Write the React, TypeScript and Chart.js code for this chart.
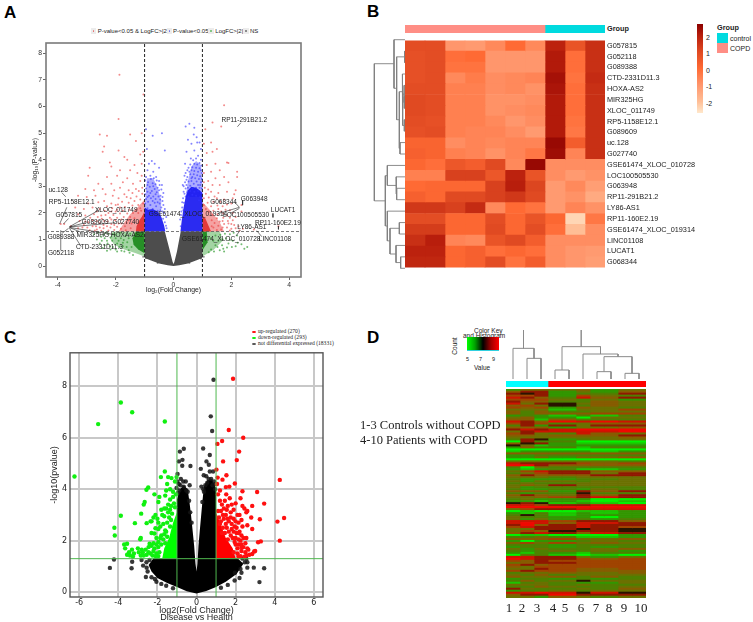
import React, { useEffect, useRef } from "react";
import { Chart, registerables } from "chart.js";

Chart.register(...registerables);

type Pair = [number, number];
const SANS = "'Liberation Sans', Arial, sans-serif";
const SERIF = "'Liberation Serif', serif";

/* ---------- Panel A: volcano ---------- */
const aXTicks = [-4, -2, 0, 2, 4];
const aYTicks = [0, 1, 2, 3, 4, 5, 6, 7, 8];
const aGreyMass: Pair[] = [[0, 0], [-0.2, 0.03], [-0.5, 0.1], [-0.8, 0.22], [-1, 0.3], [-1, 1.3], [-0.3, 1.3], [-0.12, 0.55], [-0.03, 0.15], [0, 0.08], [0.03, 0.15], [0.12, 0.55], [0.25, 1.3], [1, 1.3], [1, 0.3], [0.8, 0.22], [0.5, 0.1], [0.2, 0.03], [0, 0]];
const aBlueDense: Pair[][] = [
  [[-1, 1.3], [-0.28, 1.3], [-0.33, 1.55], [-0.42, 1.85], [-0.55, 2.05], [-0.72, 2.15], [-0.88, 2.12], [-1, 2.2], [-1, 1.3]],
  [[0.24, 1.3], [1, 1.3], [1, 2.75], [0.9, 2.85], [0.78, 2.95], [0.62, 2.98], [0.5, 2.85], [0.42, 2.6], [0.35, 2.2], [0.29, 1.75], [0.24, 1.3]],
];
const aBlueHaze: Pair[][] = [
  [[-1, 2.1], [-0.45, 1.85], [-0.42, 2.45], [-0.55, 2.95], [-0.7, 3.3], [-0.92, 3.3], [-1, 2.1]],
  [[0.42, 2.6], [0.5, 3.2], [0.62, 3.75], [0.78, 3.95], [0.95, 3.8], [1, 3.2], [1, 2.6], [0.42, 2.6]],
];
const aRedDense: Pair[][] = [
  [[-1, 1.3], [-1.3, 1.3], [-1.28, 1.5], [-1.18, 1.72], [-1.1, 1.85], [-1, 2.05], [-1, 1.3]],
  [[1, 1.3], [1.3, 1.3], [1.2, 1.55], [1.1, 1.8], [1, 1.9], [1, 1.3]],
];
const aRedHaze: Pair[][] = [
  [[-1, 1.3], [-1.9, 1.3], [-1.7, 1.65], [-1.5, 1.95], [-1.25, 2.2], [-1, 2.5], [-1, 1.3]],
  [[1, 1.3], [1.75, 1.3], [1.6, 1.65], [1.35, 2.0], [1.1, 2.3], [1, 2.4], [1, 1.3]],
];
const aGreenDense: Pair[][] = [
  [[-1, 1.3], [-1.3, 1.3], [-1.42, 1.05], [-1.38, 0.8], [-1.22, 0.62], [-1, 0.48], [-1, 1.3]],
  [[1, 1.3], [1.15, 1.3], [1.18, 0.9], [1, 0.6], [1, 1.3]],
];
const aGreenHaze: Pair[][] = [
  [[-1, 1.3], [-2.1, 1.3], [-2.2, 1.05], [-2.05, 0.8], [-1.7, 0.62], [-1.3, 0.48], [-1, 0.36], [-1, 1.3]],
  [[1, 1.3], [1.6, 1.3], [1.7, 0.95], [1.4, 0.62], [1, 0.36], [1, 1.3]],
];
const aRedPoints: Pair[] = [[-1.87, 7.2], [-1.04, 6.45], [-1.9, 5.53], [-2.55, 4.95], [-2.3, 4.9], [-1.5, 4.95], [-1.1, 5.0], [-1.3, 4.7], [-2.4, 4.5], [-2.45, 4.3], [-1.9, 4.35], [-1.7, 4.1], [-1.15, 4.2], [-1.05, 4.3], [-1.6, 4.0], [-2.2, 3.9], [-2.15, 3.75], [-1.35, 3.8], [-1.1, 3.85], [-1.85, 3.6], [-1.5, 3.6], [-2.9, 3.7], [-2.95, 3.4], [-2.3, 3.35], [-1.95, 3.4], [-1.6, 3.3], [-1.25, 3.5], [-1.1, 3.4], [-2.6, 3.1], [-2.15, 3.1], [-1.75, 3.15], [-1.4, 3.1], [-1.15, 3.2], [-3.05, 2.9], [-2.75, 2.85], [-2.45, 2.9], [-2.05, 2.85], [-1.85, 2.95], [-1.55, 2.85], [-1.3, 2.9], [-3.3, 2.65], [-3.0, 2.6], [-2.7, 2.65], [-2.35, 2.7], [-2.1, 2.65], [-1.9, 2.55], [-1.7, 2.7], [-2.95, 2.35], [-2.6, 2.4], [-2.4, 2.45], [-2.15, 2.35], [-3.4, 2.2], [-3.1, 2.15], [-2.8, 2.2], [-2.55, 2.15], [-2.3, 2.25], [-2.0, 2.3], [-3.3, 1.95], [-3.05, 1.9], [-2.75, 1.95], [-2.5, 1.9], [-2.25, 2.0], [-2.0, 2.05], [-3.25, 1.7], [-2.95, 1.65], [-2.65, 1.7], [-2.4, 1.7], [-2.15, 1.75], [-2.8, 1.5], [-2.55, 1.45], [-2.3, 1.5], [-2.05, 1.55], [-1.8, 1.6], [-3.15, 1.45], [-2.9, 1.35], [-2.65, 1.38], [-3.9, 1.58], [-3.78, 1.58], [-3.55, 1.5],
  [-1.08, 2.95], [-1.2, 2.82], [-1.42, 2.75], [-1.62, 2.6], [-1.08, 2.72], [-1.28, 2.62], [-1.48, 2.55], [-1.78, 2.42], [-1.15, 2.5], [-1.35, 2.45], [-1.55, 2.38], [-1.92, 2.32], [-1.05, 2.35], [-1.22, 2.3], [-1.42, 2.28], [-1.68, 2.22], [-1.85, 2.2], [-2.12, 2.18], [-1.15, 2.18], [-1.3, 2.12], [-1.52, 2.12], [-1.75, 2.08], [-1.95, 2.12], [-2.15, 2.05], [-2.38, 2.08], [-2.65, 2.05], [-1.4, 2.0], [-1.6, 1.98], [-1.85, 1.98], [-2.08, 1.92], [-2.35, 1.92], [-2.62, 1.85], [-2.88, 1.82], [-1.5, 1.85], [-1.72, 1.85], [-1.95, 1.82], [-2.2, 1.82], [-2.48, 1.78], [-2.8, 1.72], [-3.05, 1.68], [-1.55, 1.72], [-1.8, 1.75], [-2.02, 1.72], [-2.28, 1.68], [-2.55, 1.62], [-2.75, 1.6], [-3.1, 1.55], [-1.62, 1.62], [-1.9, 1.6], [-2.15, 1.58], [-2.42, 1.55], [-2.68, 1.5], [-2.98, 1.45], [-3.3, 1.42], [-1.68, 1.5], [-1.95, 1.48], [-2.18, 1.45], [-2.42, 1.42], [-2.72, 1.34], [-1.82, 1.4], [-2.05, 1.36], [-2.25, 1.34], [-2.5, 1.33], [-1.65, 1.35], [-1.48, 1.42], [-1.45, 1.6], [-1.35, 1.8], [-1.22, 2.0], [-1.12, 2.08],
  [1.75, 6.05], [1.35, 5.4], [1.65, 5.25], [1.1, 5.15], [1.3, 4.65], [1.05, 4.6], [1.5, 4.4], [1.35, 4.3], [1.15, 4.25], [1.85, 3.9], [1.9, 3.88], [1.45, 3.85], [1.15, 3.8], [2.2, 3.55], [2.2, 3.35], [1.6, 3.6], [1.3, 3.55], [1.05, 3.5], [1.75, 3.35], [1.45, 3.3], [1.2, 3.2], [1.05, 3.15], [1.9, 3.15], [1.6, 3.05], [1.35, 3.05], [2.15, 2.85], [2.1, 2.7], [1.85, 2.8], [1.55, 2.75], [1.3, 2.8], [2.05, 2.55], [1.75, 2.5], [1.5, 2.55], [2.35, 2.3], [2.0, 2.35], [1.7, 2.25], [2.35, 2.05], [1.95, 2.1], [1.65, 2.05], [2.15, 1.85], [1.85, 1.9], [2.1, 1.55], [2.25, 1.5], [1.9, 1.6], [1.7, 1.7], [2.4, 1.4], [2.0, 1.4], [1.7, 1.45], [3.63, 1.5], [2.78, 1.38],
  [1.08, 2.95], [1.2, 2.88], [1.12, 2.72], [1.42, 2.62], [1.22, 2.58], [1.05, 2.55], [1.62, 2.42], [1.38, 2.42], [1.18, 2.38], [1.05, 2.3], [1.85, 2.32], [1.52, 2.28], [1.3, 2.25], [1.12, 2.15], [1.8, 2.12], [1.55, 2.15], [1.38, 2.08], [1.22, 2.05], [2.05, 2.0], [1.72, 1.98], [1.52, 1.95], [1.35, 1.92], [1.95, 1.82], [1.72, 1.82], [1.5, 1.8], [1.32, 1.72], [2.05, 1.72], [1.88, 1.7], [1.6, 1.68], [1.42, 1.62], [2.0, 1.58], [1.75, 1.58], [1.55, 1.52], [1.38, 1.45], [2.15, 1.42], [1.85, 1.45], [1.65, 1.38], [1.5, 1.36], [1.95, 1.34], [2.28, 1.34], [1.32, 1.5]];
const aBluePoints: Pair[] = [[-0.95, 5.15], [-0.92, 4.4], [-0.72, 4.9], [-0.4, 5.0], [-0.3, 4.35], [-0.75, 3.95], [-0.85, 3.85], [-0.65, 3.85], [-0.9, 3.6], [-0.7, 3.55], [-0.5, 3.7], [-0.6, 3.35], [-0.8, 3.4], [-0.95, 3.35], [-0.5, 3.2], [-0.4, 3.05], [-0.9, 3.05], [-0.7, 3.0], [-0.55, 2.95], [-0.35, 2.75], [-0.45, 2.65], [-0.8, 2.75], [-0.62, 2.7], [-0.9, 2.6], [-0.38, 2.45], [-0.72, 2.45], [-0.55, 2.4], [-0.3, 2.15], [-0.42, 2.2], [-0.25, 1.85], [-0.32, 2.0],
  [-0.98, 3.22], [-0.78, 3.28], [-0.68, 3.3], [-0.58, 3.22], [-0.88, 3.15], [-0.72, 3.12], [-0.62, 3.08], [-0.48, 3.05], [-0.95, 2.92], [-0.82, 2.98], [-0.65, 2.9], [-0.5, 2.85], [-0.42, 2.88], [-0.9, 2.8], [-0.75, 2.82], [-0.58, 2.78], [-0.98, 2.7], [-0.85, 2.65], [-0.7, 2.62], [-0.52, 2.62], [-0.38, 2.6], [-0.95, 2.52], [-0.78, 2.55], [-0.62, 2.52], [-0.46, 2.5], [-0.88, 2.42], [-0.65, 2.38], [-0.48, 2.35], [-0.35, 2.3], [-0.98, 2.35], [-0.8, 2.3], [-0.6, 2.25], [-0.45, 2.1], [-0.9, 2.18], [-0.72, 2.15], [-0.55, 2.08], [-0.38, 2.05], [-0.98, 2.08], [-0.82, 2.05], [-0.62, 1.98], [-0.48, 1.92], [-0.36, 1.78], [-0.3, 1.65], [-0.26, 1.52], [-0.24, 1.42],
  [0.55, 5.35], [0.42, 5.25], [0.72, 5.2], [0.7, 4.95], [0.8, 4.85], [0.82, 4.65], [0.9, 4.65], [0.5, 4.75], [0.62, 4.6], [0.95, 4.4], [0.72, 4.35], [0.45, 4.3], [0.85, 4.15], [0.6, 4.05], [0.4, 3.85], [0.52, 3.7], [0.38, 3.4], [0.45, 3.25], [0.32, 3.05], [0.55, 3.55], [0.62, 3.3], [0.35, 2.8], [0.3, 2.4], [0.95, 4.0], [0.78, 4.05], [0.27, 2.05], [0.23, 1.75], [0.92, 3.05], [0.98, 3.5], [0.25, 1.5],
  [0.68, 3.98], [0.9, 3.88], [0.72, 3.85], [0.82, 3.82], [0.58, 3.82], [0.98, 3.78], [0.65, 3.72], [0.78, 3.7], [0.9, 3.68], [0.48, 3.6], [0.62, 3.6], [0.72, 3.58], [0.85, 3.55], [0.95, 3.6], [0.42, 3.5], [0.58, 3.45], [0.7, 3.45], [0.82, 3.42], [0.92, 3.38], [0.48, 3.35], [0.65, 3.35], [0.75, 3.3], [0.88, 3.28], [0.98, 3.28], [0.4, 3.15], [0.52, 3.18], [0.62, 3.2], [0.8, 3.18], [0.95, 3.15], [0.35, 3.0], [0.45, 3.05], [0.58, 3.02], [0.7, 3.1], [0.85, 3.05], [0.42, 2.92], [0.5, 2.95], [0.65, 2.92], [0.78, 2.95], [0.9, 2.95], [0.98, 2.92], [0.38, 2.72], [0.48, 2.78], [0.58, 2.82], [0.72, 2.8], [0.85, 2.82], [0.95, 2.75], [0.33, 2.55], [0.42, 2.62], [0.52, 2.62], [0.65, 2.68], [0.78, 2.65], [0.92, 2.6], [0.36, 2.38], [0.44, 2.48], [0.88, 2.48], [0.98, 2.45], [0.3, 2.2], [0.34, 2.1], [0.26, 1.92]];
const aGreenPoints: Pair[] = [[-2.75, 1.2], [-2.5, 1.1], [-2.65, 1.0], [-2.3, 0.95], [-2.55, 0.85], [-2.2, 0.75], [-2.45, 0.68], [-2.0, 0.62], [-2.3, 0.58], [-1.8, 0.58], [-2.1, 1.2], [-1.9, 0.95], [-1.75, 0.75], [-1.65, 1.15], [-1.55, 0.6], [-2.35, 1.25], [-2.0, 1.05], [-1.7, 0.55], [-1.4, 0.42],
  [-2.6, 1.25], [-2.42, 1.18], [-2.25, 1.22], [-2.38, 1.05], [-2.18, 1.08], [-2.02, 1.18], [-2.48, 0.95], [-2.28, 0.85], [-2.12, 0.95], [-1.95, 0.85], [-2.38, 0.78], [-2.1, 0.72], [-1.88, 0.72], [-1.75, 0.88], [-1.82, 1.05], [-1.72, 0.98], [-2.18, 0.62], [-1.95, 0.55], [-1.62, 0.72], [-1.52, 0.5], [-1.85, 1.25], [-1.6, 0.9], [-1.5, 1.22], [-1.55, 1.05], [-1.45, 0.72],
  [2.35, 0.82], [2.45, 0.65], [2.15, 0.75], [1.95, 1.2], [2.05, 0.95], [1.85, 0.7], [1.7, 1.0], [1.6, 0.6], [1.45, 1.15], [1.4, 0.55], [2.2, 1.15], [1.75, 0.55], [1.9, 0.85], [2.55, 0.72], [1.78, 1.22], [1.62, 1.18], [2.08, 1.25], [1.55, 0.95], [1.82, 1.05], [1.95, 0.98], [1.45, 0.78], [1.68, 0.78], [1.3, 0.62], [1.28, 1.05], [1.38, 0.95], [2.22, 0.88], [2.02, 0.72], [1.52, 0.72], [1.22, 0.52], [1.72, 0.65]];
const aGreyPoints: Pair[] = [[-1.05, 0.35], [-0.95, 0.3], [1.05, 0.35], [0.95, 0.28], [-0.55, 0.12], [0.55, 0.12]];
const aGeneLabels: { text: string; x: number; y: number }[] = [
  { text: "uc.128", x: -3.99, y: 2.85 }, { text: "RP5-1158E12.1", x: -3.52, y: 2.41 }, { text: "G057815", x: -3.62, y: 1.92 },
  { text: "XLOC_011749", x: -1.98, y: 2.1 }, { text: "G089609", x: -2.71, y: 1.65 }, { text: "G027740", x: -1.65, y: 1.65 },
  { text: "G089388", x: -3.89, y: 1.1 }, { text: "MIR325HG", x: -2.79, y: 1.18 }, { text: "HOXA-AS2", x: -1.6, y: 1.18 },
  { text: "CTD-2331D11.3", x: -2.56, y: 0.71 }, { text: "G052118", x: -3.89, y: 0.5 }, { text: "GSE61474_XLOC_019314", x: 0.5, y: 1.95 },
  { text: "G068344", x: 1.73, y: 2.41 }, { text: "G063948", x: 2.79, y: 2.53 }, { text: "RP11-291B21.2", x: 2.45, y: 5.49 },
  { text: "LOC100505530", x: 2.51, y: 1.9 }, { text: "LUCAT1", x: 3.79, y: 2.1 }, { text: "RP11-160E2.19", x: 3.61, y: 1.62 },
  { text: "LY86-AS1", x: 2.71, y: 1.47 }, { text: "LINC01108", x: 3.51, y: 1.03 }, { text: "GSE61474_XLOC_010728", x: 1.65, y: 1.03 },
];
const aConnectors: Pair[][] = [
  [[-3.86, 2.76], [-3.73, 2.61]], [[-3.69, 2.21], [-3.94, 1.58]], [[-3.63, 1.79], [-3.81, 1.58]], [[-2.57, 2.11], [-3.6, 1.48]],
  [[-3.06, 1.63], [-3.6, 1.47]], [[-2.02, 1.63], [-3.6, 1.47]], [[-3.19, 1.27], [-3.6, 1.45]], [[-2.08, 1.19], [-3.58, 1.45]],
  [[-3.19, 0.73], [-3.6, 1.43]], [[-3.86, 1.23], [-3.63, 1.42]], [[-3.9, 0.6], [-3.9, 1.35]], [[1.56, 1.98], [2.28, 2.21]],
  [[2.11, 2.41], [2.28, 2.21]], [[2.39, 2.48], [2.39, 2.29]], [[2.33, 5.39], [2.21, 5.24]], [[1.96, 1.98], [2.28, 2.17]],
  [[3.44, 1.98], [3.44, 1.83]], [[3.63, 1.5], [3.63, 1.38]], [[3.06, 1.1], [2.88, 1.33]], [[2.16, 1.13], [2.31, 1.35]],
];
const aLegend = ["P-value<0.05 & LogFC>|2|", "P-value<0.05", "LogFC>|2|", "NS"];

/* ---------- Panel B: heatmap ---------- */
const bGenes = ["G057815", "G052118", "G089388", "CTD-2331D11.3", "HOXA-AS2", "MIR325HG", "XLOC_011749", "RP5-1158E12.1", "G089609", "uc.128", "G027740", "GSE61474_XLOC_010728", "LOC100505530", "G063948", "RP11-291B21.2", "LY86-AS1", "RP11-160E2.19", "GSE61474_XLOC_019314", "LINC01108", "LUCAT1", "G068344"];
const bValues: number[][] = [
  [0.9, 0.9, -1.0, -1.1, -0.7, 0.0, -0.7, 1.9, 0.7, 1.6],
  [0.8, 0.9, -0.1, 0.0, -1.0, -1.0, -1.0, 2.1, -0.1, 1.6],
  [0.8, 0.9, -0.2, -0.2, -1.0, -1.0, -1.0, 2.1, -0.1, 1.6],
  [0.8, 0.9, -0.7, -0.4, -0.8, -0.7, -0.6, 2.3, -0.2, 1.7],
  [0.9, 0.9, -0.5, -0.5, -0.8, -0.7, -0.9, 2.2, -0.1, 1.6],
  [1.0, 0.9, -0.5, -0.5, -0.9, -0.9, -0.8, 2.1, -0.1, 1.6],
  [1.0, 0.9, -0.5, -0.5, -0.9, -0.8, -0.7, 2.1, -0.1, 1.6],
  [0.9, 0.8, -0.5, -0.5, -0.7, -1.0, -0.8, 2.1, -0.2, 1.6],
  [0.8, 0.9, -0.5, -0.6, -0.6, -0.8, -1.1, 2.1, -0.3, 1.6],
  [0.2, 0.2, -0.8, -0.6, -0.7, -0.6, -0.6, 2.5, 0.4, 1.6],
  [0.3, 0.2, -0.5, -0.6, -0.9, -0.6, -0.3, 2.4, -0.6, 1.6],
  [0.1, -0.1, 0.6, 0.4, 1.0, -0.7, 2.5, -0.8, -0.8, -0.8],
  [-0.5, -0.5, 1.2, 1.2, 0.6, 1.9, 0.7, -0.8, -1.1, -0.9],
  [0.0, 0.1, 0.1, 0.1, 1.2, 2.0, 1.1, -1.1, -0.7, -1.2],
  [0.3, 0.1, 1.0, 1.0, 1.2, 1.4, 1.0, -1.1, -0.9, -1.5],
  [1.4, 1.4, 1.2, 1.7, -0.7, 0.0, -0.2, -1.1, -0.6, -0.9],
  [0.9, 0.9, 0.1, 0.1, 0.9, 0.1, 0.7, 0.1, -2.4, -0.3],
  [1.3, 1.3, 0.1, 0.1, 1.0, 0.1, 0.9, -0.1, -2.0, -0.8],
  [1.6, 2.0, -0.6, -0.7, 0.7, 1.0, 0.4, -0.8, -0.8, -0.8],
  [1.9, 1.9, 0.1, 0.3, -0.1, 0.1, -0.1, -0.8, -1.0, -1.1],
  [1.8, 1.8, 0.1, 0.3, 0.9, -0.2, 0.4, -0.8, -1.0, -1.2],
];
const bGroupSizes = [7, 3];
/* each merge: height, row A, height A, row B, height B */
const bDendrogram: number[][] = [
  [1, 1, 0, 2, 0], [2, 5, 0, 6, 0], [3, 4, 0, 5.5, 2], [2, 7, 0, 8, 0], [7, 4.75, 3, 7.5, 2], [8, 3, 0, 6.1, 7],
  [15, 9, 0, 10, 0], [17, 4.55, 8, 9.5, 15], [25, 1.5, 1, 7, 17], [33, 0, 0, 4.25, 25],
  [25, 13, 0, 14, 0], [27, 12, 0, 13.5, 25], [53, 11, 0, 12.75, 27],
  [17, 16, 0, 17, 0], [13, 19, 0, 20, 0], [27, 18, 0, 19.5, 13], [45, 16.5, 17, 18.75, 27], [53, 15, 0, 17.6, 45],
  [59, 11.9, 53, 16.3, 53], [92, 2.1, 33, 14.1, 59],
];
const bColorbarTicks = ["2", "1", "0", "-1", "-2"];
const bGroupNames = ["control", "COPD"];

/* ---------- Panel C: volcano ---------- */
const cXTicks = [-6, -4, -2, 0, 2, 4, 6];
const cYTicks = [0, 2, 4, 6, 8];
const cBlackMass: Pair[] = [[0, -0.05], [-0.5, 0.03], [-1, 0.2], [-1.5, 0.35], [-2, 0.55], [-2.3, 0.8], [-2.45, 1.05], [-2.2, 1.32], [-1, 1.32], [-1, 3.6], [-0.85, 4.0], [-0.65, 4.15], [-0.45, 4.0], [-0.36, 3.5], [-0.28, 3.0], [-0.2, 2.4], [-0.12, 1.8], [-0.05, 1.1], [0, 0.8], [0.05, 1.1], [0.1, 1.8], [0.17, 2.4], [0.24, 3.0], [0.3, 3.5], [0.38, 4.1], [0.55, 4.35], [0.8, 4.4], [1, 4.0], [1, 1.32], [2.1, 1.32], [2.4, 1.1], [2.05, 0.7], [1.5, 0.4], [1, 0.2], [0.5, 0.04], [0, -0.05]];
const cRedMass: Pair[] = [[1, 1.32], [2.0, 1.32], [1.85, 1.7], [1.5, 2.1], [1.2, 2.7], [1, 3.1], [1, 1.32]];
const cGreenMass: Pair[] = [[-1, 1.32], [-1.75, 1.32], [-1.65, 1.7], [-1.4, 2.1], [-1.2, 2.7], [-1, 3.1], [-1, 1.32]];
const cRedPoints: Pair[] = [[1.87, 8.29], [1.65, 6.3], [2.39, 6.0], [1.31, 5.87], [1.07, 5.76], [2.18, 5.46], [1.36, 5.08], [2.06, 5.13], [1.02, 4.76], [4.26, 4.36], [1.53, 4.54], [1.33, 4.37], [1.96, 4.22], [3.1, 3.89], [2.35, 3.92], [3.46, 3.44], [4.48, 2.88], [4.14, 2.74], [4.26, 2.0], [3.24, 2.83], [3.29, 1.97], [3.15, 1.94], [1.08, 4.45], [1.05, 4.2], [1.5, 4.08], [1.68, 4.1], [1.2, 3.95], [1.1, 3.8], [1.52, 3.8], [2.25, 3.65], [2.85, 3.35], [2.6, 3.15], [2.35, 3.35], [2.45, 3.25], [1.8, 3.4], [2.0, 3.45], [1.6, 3.35], [1.3, 3.4], [1.75, 3.1], [2.1, 3.0], [2.2, 3.0], [2.55, 3.1], [1.5, 3.0], [1.9, 2.85], [2.8, 2.9], [2.6, 2.6], [1.4, 2.85], [1.65, 2.75], [2.15, 2.7], [1.95, 2.55], [1.2, 2.65], [2.85, 2.45], [2.2, 2.35], [1.8, 2.45], [1.55, 2.5], [2.3, 2.2], [2.05, 2.3], [2.4, 2.1], [2.55, 2.1], [2.15, 2.05], [1.85, 2.1], [2.5, 1.9], [2.3, 1.85], [2.6, 1.7], [2.4, 1.75], [2.0, 1.85], [2.65, 1.65], [2.95, 1.58], [2.85, 1.48], [2.7, 1.45], [2.5, 1.55], [2.3, 1.6], [2.45, 1.38], [2.25, 1.4], [3.0, 1.6], [2.1, 1.5], [1.3, 2.3], [1.15, 2.9], [1.1, 3.15],
  [1.2, 3.55], [1.45, 3.55], [1.7, 3.65], [1.25, 3.15], [1.4, 3.25], [1.55, 3.2], [1.9, 3.2], [1.35, 3.0], [1.6, 2.85], [1.75, 2.9], [2.0, 2.75], [2.3, 2.8], [1.25, 2.75], [1.5, 2.65], [1.8, 2.65], [2.05, 2.5], [2.35, 2.55], [1.35, 2.5], [1.65, 2.35], [1.9, 2.35], [1.45, 2.3], [2.15, 2.3], [1.6, 2.05], [1.75, 2.2], [2.0, 2.1], [2.25, 2.0], [1.95, 1.95], [2.15, 1.85], [2.3, 1.75], [2.1, 1.7], [1.9, 1.55], [2.55, 1.42], [2.15, 1.38]];
const cGreenPoints: Pair[] = [[-5.03, 6.53], [-3.87, 7.37], [-3.29, 6.99], [-1.62, 6.63], [-6.24, 4.49], [-1.62, 4.69], [-1.82, 4.47], [-1.45, 4.47], [-1.28, 4.43], [-1.02, 4.47], [-2.47, 4.07], [-2.56, 3.98], [-1.5, 4.2], [-1.1, 4.3], [-1.35, 4.0], [-1.55, 3.95], [-1.2, 3.9], [-1.05, 3.8], [-2.15, 3.8], [-1.9, 3.7], [-1.6, 3.75], [-1.35, 3.6], [-1.2, 3.7], [-1.95, 3.5], [-2.65, 3.5], [-2.7, 3.4], [-1.8, 3.2], [-1.55, 3.25], [-1.35, 3.2], [-1.1, 3.3], [-2.83, 3.05], [-3.87, 2.97], [-2.1, 3.0], [-2.2, 2.9], [-2.0, 2.85], [-1.65, 2.95], [-1.4, 2.9], [-2.3, 2.75], [-1.95, 2.7], [-3.15, 2.68], [-2.55, 2.68], [-2.35, 2.75], [-1.7, 2.65], [-4.2, 2.5], [-2.1, 2.48], [-1.95, 2.45], [-1.6, 2.4], [-2.3, 2.3], [-2.15, 2.28], [-1.55, 2.35], [-1.8, 2.2], [-4.18, 2.2], [-2.85, 2.1], [-2.88, 2.05], [-2.05, 2.1], [-1.7, 2.05], [-1.95, 1.95], [-2.2, 1.9], [-2.4, 1.88], [-3.55, 1.88], [-2.3, 1.8], [-3.7, 1.85], [-3.65, 1.7], [-2.45, 1.75], [-1.95, 1.75], [-3.0, 1.7], [-2.6, 1.65], [-2.8, 1.65], [-3.3, 1.65], [-2.95, 1.55], [-2.75, 1.55], [-3.45, 1.55], [-2.2, 1.6], [-2.35, 1.5], [-3.55, 1.45], [-3.4, 1.42], [-2.85, 1.42], [-3.25, 1.38], [-2.1, 1.4], [-3.2, 1.5],
  [-1.15, 3.45], [-1.3, 3.35], [-1.45, 3.4], [-1.65, 3.25], [-1.25, 3.05], [-1.45, 3.1], [-1.75, 3.0], [-1.3, 2.8], [-1.5, 2.7], [-1.85, 2.55], [-1.35, 2.55], [-1.65, 2.25], [-1.5, 2.15], [-1.85, 2.1], [-1.6, 1.9], [-1.8, 1.85], [-2.05, 1.85], [-2.15, 1.7], [-1.9, 1.55], [-2.05, 1.5], [-2.45, 1.55], [-1.95, 1.4], [-2.25, 1.42], [-2.55, 1.45], [-2.7, 1.42]];
const cBlackPoints: Pair[] = [[0.87, 8.25], [0.73, 6.83], [0.8, 6.26], [0.34, 5.58], [-0.65, 5.57], [-0.85, 5.46], [0.68, 5.33], [-0.72, 5.14], [-0.9, 5.08], [-0.73, 4.91], [-0.31, 4.9], [0.22, 4.79], [0.51, 5.08], [0.63, 4.95], [-0.97, 4.59], [0.37, 4.54], [0.68, 4.69], [0.85, 4.69], [-4.43, 0.94], [-4.22, 1.27], [-3.29, 1.18], [-3.32, 0.93], [-2.59, 0.59], [2.93, 0.95], [3.46, 0.93], [3.22, 0.39], [2.25, 0.9], [2.47, 1.16], [1.96, 0.75], [-2.81, 1.25], [-2.73, 1.03], [-2.56, 1.16], [-2.3, 0.58], [-2.13, 0.51], [-0.8, 4.4], [-0.55, 4.3], [-0.35, 4.15], [-0.9, 4.2], [-0.65, 4.1], [-0.45, 3.9], [0.5, 4.5], [0.75, 4.4], [0.9, 4.3], [0.35, 4.0], [0.95, 4.0], [0.55, 4.25], [0.25, 4.1], [-0.95, 3.85], [-1.02, 4.05], [-2.55, 0.95], [-2.4, 1.25], [2.55, 1.3], [2.35, 1.3], [2.6, 1.16],
  [-0.98, 4.3], [-0.82, 4.15], [-0.68, 4.3], [-0.52, 3.95], [-0.88, 3.95], [-0.38, 3.55], [-0.32, 3.1], [-0.25, 2.7], [0.3, 3.5], [0.38, 3.9], [0.45, 4.15], [0.62, 4.4], [0.82, 4.15], [0.98, 4.2], [-2.05, 0.4], [-1.8, 0.32], [-1.55, 0.25], [-1.2, 0.15], [2.2, 0.55], [1.95, 0.45], [1.6, 0.28], [1.25, 0.17], [-2.5, 0.8], [2.3, 0.75], [2.6, 0.95]];
const cLegend = ["up-regulated (270)", "down-regulated (293)", "not differential expressed (18331)"];

/* ---------- Panel D: heatmap ---------- */
const dColumnLabels = ["1", "2", "3", "4", "5", "6", "7", "8", "9", "10"];
const dLabelAt = [0.21, 1.14, 2.21, 3.36, 4.21, 5.36, 6.43, 7.36, 8.43, 9.64];
const dBlockOfColumn = [0, 1, 2, 3, 3, 4, 5, 5, 6, 6];
const dGroupSizes = [3, 7];
/* each digit is one read colour class of a block of columns */
const dRows = ["2444524", "5772425", "7a72337", "6672643", "8753857", "6664342", "7553354", "847a454", "564a354", "6562543", "4441446", "5353344", "5355566", "2321313", "4522044", "5515333", "8759898", "6763455", "3727477", "5552445", "7878999", "4788889", "6743854", "5545557", "4444445", "37a2344", "0733000", "5a72111", "a412222", "2533133", "0000000", "1222212", "5555555", "2233333", "2242445", "0000000", "4444443", "8777656", "9975555", "3043333", "2123112", "4687755", "3467747", "5755577", "4443444", "3222334", "4244344", "3433444", "4547444", "4233333", "3223243", "5552757", "3233a33", "5754757", "4456787", "3422200", "2212101", "a7a1210", "8867788", "9999999", "4677888", "0100112", "2131212", "3a31222", "4332202", "4242323", "8886775", "8985887", "7957877", "6877876", "4477a7a", "465a77a", "5787587", "0110002", "3343112", "5556445", "2022343", "5646454", "3332333", "2332323", "4243345", "3234342", "2132133", "0331010", "8877424", "9877656", "6576666", "4577666", "6756666", "5466666", "4476556", "6766555", "3445445", "4353444", "5445353", "2332323", "3534a44", "1343224", "4443433", "3354334", "7433435", "2334344", "8898a8a", "5779777", "4425434"];
const dPalette = ["#00f400", "#1cc400", "#329600", "#4e8000", "#6b7000", "#875c00", "#a04400", "#901800", "#cc1400", "#f00800", "#2a1400"];
const dDendrogram: number[][] = [
  [62, 1, 0, 2, 0], [92, 0, 0, 1.5, 62], [27, 3, 0, 4, 0], [22, 6, 0, 7, 0], [17, 8, 0, 9, 0], [67, 6.5, 22, 8.5, 17],
  [75, 5, 0, 7.5, 67], [97, 3.5, 27, 6.25, 75], [147, 0.75, 92, 0.75, 92], [147, 4.87, 97, 4.87, 97],
];
const dKeyTicks = ["5", "7", "9"];

/* ---------- helpers ---------- */
const heatStops: [number, number[]][] = [[-2.7, [255, 232, 204]], [-2, [255, 190, 150]], [-1, [255, 150, 108]], [0, [255, 106, 52]], [1, [224, 74, 34]], [2, [184, 30, 12]], [2.7, [139, 0, 0]]];
function heatColor(v: number): string {
  for (let i = 1; i < heatStops.length; i++) {
    const [v0, c0] = heatStops[i - 1];
    const [v1, c1] = heatStops[i];
    if (v <= v1) {
      const t = Math.max(0, (v - v0) / (v1 - v0));
      return `rgb(${c0.map((c, k) => Math.round(c + (c1[k] - c) * t)).join(",")})`;
    }
  }
  return "rgb(139,0,0)";
}
const toXY = (p: Pair[]) => p.map(([x, y]) => ({ x, y }));
const dots = (p: Pair[], color: string, radius: number, order: number) => ({ data: toXY(p), backgroundColor: color, borderWidth: 0, pointRadius: radius, pointHoverRadius: radius, showLine: false, order });
const shape = (p: Pair[], color: string, order: number) => ({ data: toXY(p), showLine: true, fill: "shape", backgroundColor: color, borderWidth: 0, borderColor: "transparent", pointRadius: 0, tension: 0, order });
const line = (p: Pair[], color: string, width: number, order: number, dash: number[] = []) => ({ data: toXY(p), showLine: true, fill: false, borderColor: color, borderWidth: width, borderDash: dash, pointRadius: 0, tension: 0, order });
const fixedTicks = (values: number[]) => (scale: any) => { scale.ticks = values.map((value) => ({ value })); };
const frame = (color: string, width: number) => ({
  id: "frame",
  afterDatasetsDraw(chart: any) {
    const { left, top, width: w, height: h } = chart.chartArea;
    chart.ctx.save();
    chart.ctx.strokeStyle = color;
    chart.ctx.lineWidth = width;
    chart.ctx.strokeRect(left, top, w, h);
    chart.ctx.restore();
  },
});
const geneLabels = {
  id: "geneLabels",
  afterDatasetsDraw(chart: any) {
    const { ctx, scales } = chart;
    ctx.save();
    ctx.font = `6.5px ${SANS}`;
    ctx.fillStyle = "#222";
    ctx.textAlign = "center";
    ctx.textBaseline = "middle";
    aGeneLabels.forEach((g) => ctx.fillText(g.text, scales.x.getPixelForValue(g.x), scales.y.getPixelForValue(g.y)));
    ctx.restore();
  },
};
const baseOptions = { responsive: false, maintainAspectRatio: false, animation: false as const, events: [] as string[], plugins: { legend: { display: false }, tooltip: { enabled: false } } };
const hiddenScale = (extra: object) => ({ display: false, ...extra });

function mergePaths(merges: number[][], swap: boolean): Pair[][] {
  return merges.map(([h, a, ha, b, hb]) => {
    const path: Pair[] = [[ha, a], [h, a], [h, b], [hb, b]];
    return swap ? path.map(([p, q]) => [q, p] as Pair) : path;
  });
}

/* ---------- chart configs ---------- */
const configA = () => {
  const limit: Pair[] = [[-4.41, 1.3], [4.41, 1.3]];
  const datasets: any[] = [
    shape(aGreyMass, "#4d4d4d", 90),
    ...aBlueHaze.map((p) => shape(p, "rgba(70,70,255,0.45)", 80)),
    ...aBlueDense.map((p) => shape(p, "rgba(20,20,240,0.9)", 79)),
    ...aRedHaze.map((p) => shape(p, "rgba(235,70,70,0.5)", 80)),
    ...aRedDense.map((p) => shape(p, "rgba(225,40,40,0.85)", 79)),
    ...aGreenHaze.map((p) => shape(p, "rgba(50,160,50,0.45)", 80)),
    ...aGreenDense.map((p) => shape(p, "rgba(25,135,25,0.9)", 79)),
    dots(aRedPoints, "rgba(235,60,60,0.6)", 1, 50),
    dots(aBluePoints, "rgba(50,50,255,0.6)", 1, 50),
    dots(aGreenPoints, "rgba(40,150,40,0.65)", 1, 50),
    dots(aGreyPoints, "rgba(70,70,70,0.7)", 0.9, 50),
    line([[-1, -0.41], [-1, 8.39]], "#222", 1, 20, [3, 2]),
    line([[1, -0.41], [1, 8.39]], "#222", 1, 20, [3, 2]),
    line(limit, "#555", 0.8, 20, [3, 2]),
    ...aConnectors.map((p) => line(p, "#222", 0.6, 10)),
  ];
  const tickFont = { family: SANS, size: 6.8 };
  return {
    type: "scatter",
    data: { datasets },
    plugins: [frame("#7a7a7a", 1.6), geneLabels],
    options: {
      ...baseOptions,
      layout: { autoPadding: false, padding: { top: 8, right: 9 } },
      scales: {
        x: {
          min: -4.41, max: 4.41, afterBuildTicks: fixedTicks(aXTicks),
          grid: { display: true, drawOnChartArea: false, tickLength: 3, color: "#666" }, border: { display: false },
          ticks: { font: tickFont, color: "#333", padding: 1, maxRotation: 0, autoSkip: false },
          title: { display: true, text: "log₂(Fold Change)", font: { family: SANS, size: 6.8 }, color: "#222", padding: { top: 0, bottom: 6 } },
          afterFit: (s: any) => { s.height = 23; },
        },
        y: {
          min: -0.41, max: 8.39, afterBuildTicks: fixedTicks(aYTicks),
          grid: { display: true, drawOnChartArea: false, tickLength: 3, color: "#666" }, border: { display: false },
          ticks: { font: tickFont, color: "#333", padding: 1, autoSkip: false },
          title: { display: true, text: "-log₁₀(P-value)", font: { family: SANS, size: 6.8 }, color: "#222", padding: { top: 31, bottom: 0 } },
          afterFit: (s: any) => { s.width = 46; },
        },
      },
    },
  };
};

const heatBars = (rows: string[], columnCount: number, colorOf: (row: number, col: number) => string) => ({
  labels: rows,
  datasets: Array.from({ length: columnCount }, (_, col) => ({
    data: rows.map(() => 1),
    backgroundColor: rows.map((_r, row) => colorOf(row, col)),
    borderWidth: 0, barPercentage: 1, categoryPercentage: 1,
  })),
});

const configB = () => ({
  type: "bar",
  data: heatBars(bGenes, 10, (r, c) => heatColor(bValues[r][c])),
  options: {
    ...baseOptions,
    indexAxis: "y",
    layout: { autoPadding: false },
    scales: {
      x: hiddenScale({ stacked: true, min: 0, max: 10 }),
      y: {
        stacked: true, position: "right",
        grid: { display: false, drawTicks: false }, border: { display: false },
        ticks: { font: { family: SANS, size: 7.3 }, color: "#222", padding: 2, autoSkip: false },
        afterFit: (s: any) => { s.width = 90; },
      },
    },
  },
});

const groupBar = (sizes: number[], colors: string[]) => ({
  type: "bar",
  data: { labels: ["Group"], datasets: sizes.map((n, i) => ({ data: [n], backgroundColor: colors[i], borderWidth: 0, barPercentage: 1, categoryPercentage: 1 })) },
  options: {
    ...baseOptions, indexAxis: "y", layout: { autoPadding: false },
    scales: { x: hiddenScale({ stacked: true, min: 0, max: sizes.reduce((a, b) => a + b, 0) }), y: hiddenScale({ stacked: true }) },
  },
});

const dendroConfig = (paths: Pair[][], xScale: object, yScale: object, color: string, width: number) => ({
  type: "scatter",
  data: { datasets: paths.map((p) => line(p, color, width, 1)) },
  options: { ...baseOptions, layout: { autoPadding: false }, scales: { x: hiddenScale(xScale), y: hiddenScale(yScale) } },
});

const configC = () => {
  const datasets: any[] = [
    shape(cBlackMass, "#000", 90),
    shape(cRedMass, "#ff0000", 80),
    shape(cGreenMass, "#00ff00", 80),
    dots(cBlackPoints, "rgba(20,20,20,0.85)", 2.2, 60),
    dots(cRedPoints, "#ff1010", 2.2, 50),
    dots(cGreenPoints, "#10f010", 2.2, 50),
    line([[-1, -0.19], [-1, 9.3]], "#4fb84f", 1, 20),
    line([[1, -0.19], [1, 9.3]], "#4fb84f", 1, 20),
    line([[-6.47, 1.3], [6.47, 1.3]], "#4fb84f", 1, 20),
  ];
  const tickFont = { family: "'DejaVu Sans', sans-serif", size: 8 };
  const grid = { display: true, color: "#c8c8c8", lineWidth: 2, drawTicks: false };
  return {
    type: "scatter",
    data: { datasets },
    plugins: [frame("#555", 1.4)],
    options: {
      ...baseOptions,
      layout: { autoPadding: false, padding: { top: 6, right: 12 } },
      scales: {
        x: {
          min: -6.47, max: 6.47, afterBuildTicks: fixedTicks(cXTicks), grid, border: { display: false },
          ticks: { font: tickFont, color: "#222", padding: 1, maxRotation: 0, autoSkip: false },
          title: { display: true, text: ["log2(Fold Change)", "Disease vs Health"], font: { family: SANS, size: 9, lineHeight: 0.8 }, color: "#222", padding: { top: 0, bottom: 1 } },
          afterFit: (s: any) => { s.height = 25; },
        },
        y: {
          min: -0.19, max: 9.3, afterBuildTicks: fixedTicks(cYTicks), grid, border: { display: false },
          ticks: { font: tickFont, color: "#222", padding: 3, autoSkip: false },
          title: { display: true, text: "-log10(pvalue)", font: { family: SANS, size: 9 }, color: "#222", padding: { top: 49, bottom: 0 } },
          afterFit: (s: any) => { s.width = 70; },
        },
      },
    },
  };
};

const configD = () => ({
  type: "bar",
  data: heatBars(dRows, 10, (r, c) => dPalette[parseInt(dRows[r][dBlockOfColumn[c]], 36)]),
  options: {
    ...baseOptions,
    indexAxis: "y",
    layout: { autoPadding: false, padding: { left: 10, right: 10 } },
    scales: {
      x: {
        stacked: true, min: 0, max: 10, afterBuildTicks: fixedTicks(dLabelAt),
        grid: { display: false, drawTicks: false }, border: { display: false },
        ticks: { font: { family: SERIF, size: 13 }, color: "#222", padding: 3, maxRotation: 0, autoSkip: false, callback: (_v: number, i: number) => dColumnLabels[i] },
        afterFit: (s: any) => { s.height = 25; },
      },
      y: hiddenScale({ stacked: true }),
    },
  },
});

/* ---------- components ---------- */
function ChartBox({ left, top, width, height, make }: { left: number; top: number; width: number; height: number; make: () => any }) {
  const ref = useRef<HTMLCanvasElement>(null);
  useEffect(() => {
    const chart = new Chart(ref.current as HTMLCanvasElement, make());
    return () => chart.destroy();
  }, []);
  return <canvas ref={ref} width={width} height={height} style={{ position: "absolute", left, top, width, height, display: "block" }} />;
}

function Label({ x, y, size, children, bold, serif, color, rotate }: { x: number; y: number; size: number; children: React.ReactNode; bold?: boolean; serif?: boolean; color?: string; rotate?: boolean }) {
  return (
    <div style={{ position: "absolute", left: x, top: y, transform: rotate ? "translateY(-50%) rotate(-90deg)" : "translateY(-50%)", whiteSpace: "nowrap", lineHeight: 1, fontSize: size, fontFamily: serif ? SERIF : SANS, fontWeight: bold ? 700 : 400, color: color || "#222" }}>{children}</div>
  );
}
function Box({ x, y, w, h, bg, round }: { x: number; y: number; w: number; h: number; bg: string; round?: boolean }) {
  return <div style={{ position: "absolute", left: x, top: y, width: w, height: h, background: bg, borderRadius: round ? "50%" : 0 }} />;
}

const aLegendX = [97.7, 173, 215.3, 250];
const aLegendSwatchX = [90.7, 166.7, 208.3, 243.3];
const aLegendDot = ["#e87070", "#7070f0", "#70c070", "#777"];
const cLegendY = [332, 338, 344];
const cLegendDot = ["#ff1010", "#10f010", "#555"];
const bStopsCss = [...heatStops].reverse().map(([v, c]) => `rgb(${c.join(",")}) ${((2.7 - v) / 5.4) * 100}%`).join(",");
const dKeyX = [467, 480, 493];

export default function App() {
  return (
    <div style={{ position: "absolute", left: 0, top: 0, width: 753, height: 622, overflow: "hidden", background: "#fff" }}>
      <Label x={4} y={12} size={17} bold color="#000">A</Label>
      <Label x={367} y={11} size={17} bold color="#000">B</Label>
      <Label x={4} y={337} size={17} bold color="#000">C</Label>
      <Label x={367} y={337} size={17} bold color="#000">D</Label>

      {aLegend.map((t, i) => (
        <React.Fragment key={t}>
          <Box x={aLegendSwatchX[i]} y={28} w={5.5} h={6} bg="#ececec" />
          <Box x={aLegendSwatchX[i] + 2} y={30.2} w={1.6} h={1.6} bg={aLegendDot[i]} round />
          <Label x={aLegendX[i]} y={31} size={6}>{t}</Label>
        </React.Fragment>
      ))}
      <ChartBox left={0} top={35} width={310} height={265} make={configA} />

      <ChartBox left={405} top={25} width={200} height={8} make={() => groupBar(bGroupSizes, ["#ff8e85", "#00dadf"])} />
      <Label x={607} y={29} size={7.3} bold>Group</Label>
      <ChartBox left={405} top={34} width={290} height={240} make={configB} />
      <ChartBox left={372} top={34} width={33} height={240} make={() => dendroConfig(mergePaths(bDendrogram, false), { min: 0, max: 99, reverse: true }, { min: -0.5, max: 20.5, reverse: true }, "#808080", 0.9)} />
      <Box x={697} y={24} w={6} h={89} bg={`linear-gradient(to bottom, ${bStopsCss})`} />
      {bColorbarTicks.map((t, i) => <Label key={t} x={706} y={37 + i * 16.4} size={7}>{t}</Label>)}
      <Label x={717} y={28} size={7.3} bold>Group</Label>
      <Box x={717} y={33} w={11} h={10} bg="#00dadf" />
      <Box x={717} y={43} w={11} h={10} bg="#ff8e85" />
      {bGroupNames.map((t, i) => <Label key={t} x={730} y={38 + i * 10} size={7}>{t}</Label>)}

      {cLegend.map((t, i) => (
        <React.Fragment key={t}>
          <Box x={251.5} y={cLegendY[i] - 1.2} w={4} h={2.6} bg={cLegendDot[i]} round />
          <Label x={258} y={cLegendY[i]} size={5.6} serif>{t}</Label>
        </React.Fragment>
      ))}
      <ChartBox left={0} top={345} width={335} height={277} make={configC} />

      <Label x={474} y={331} size={6.5}>Color Key</Label>
      <Label x={463} y={336} size={6.5}>and Histogram</Label>
      <Box x={467} y={337} w={32} h={13} bg="linear-gradient(to right, #00ff00 0%, #00a000 25%, #000 50%, #a00000 75%, #ff0000 100%)" />
      <Box x={467} y={350} w={32} h={1} bg="#30d0e0" />
      {dKeyTicks.map((t, i) => <Label key={t} x={dKeyX[i] - 1} y={360} size={5.5}>{t}</Label>)}
      <Label x={474} y={368} size={6.5}>Value</Label>
      <Label x={447} y={346} size={6.5} rotate>Count</Label>
      <ChartBox left={506} top={330} width={140} height={49} make={() => dendroConfig(mergePaths(dDendrogram, true), { min: -0.5, max: 9.5 }, { min: 0, max: 147 }, "#8a8a8a", 1)} />
      <ChartBox left={506} top={381} width={140} height={6} make={() => groupBar(dGroupSizes, ["#00ffff", "#ff0000"])} />
      <ChartBox left={496} top={389} width={160} height={234} make={configD} />
      <Label x={360} y={425} size={12.5} serif>1-3 Controls without COPD</Label>
      <Label x={360} y={440} size={12.5} serif>4-10 Patients with COPD</Label>
    </div>
  );
}
